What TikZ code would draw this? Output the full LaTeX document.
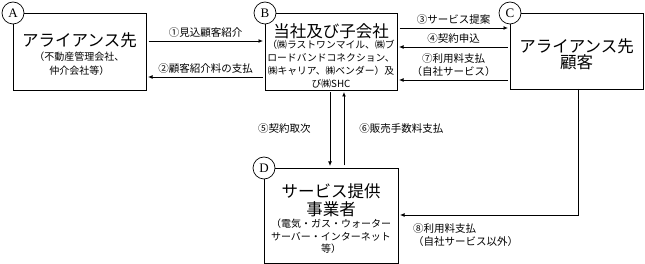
\documentclass[tikz,border=0pt]{standalone}
\usepackage{fontspec}
\setmainfont{Liberation Serif}
\newfontfamily\jpfont{Noto Sans CJK JP}
\usetikzlibrary{arrows.meta,calc}
\newcommand\bigjp{\fontsize{16.5}{13}\selectfont}
\newcommand\smalljp{\fontsize{9.8}{13}\selectfont}
% one text line: strut of #1pt above the baseline, text smashed
\newcommand\jrow[2]{\rule{0pt}{#1pt}\smash{#2}\cr}
\newcommand\jstack[1]{\vbox{\offinterlineskip\halign{\hfil##\hfil\cr#1}}}

\begin{document}
\begin{tikzpicture}[x=1pt,y=-1pt,
        box/.style={draw, line width=0.8pt, fill=white, outer sep=0pt},
        boxtext/.style={anchor=north, inner sep=0pt, font=\jpfont\fontsize{10}{13}\selectfont},
        tag/.style={draw, circle, fill=white, line width=0.7pt, minimum size=22pt, inner sep=0pt,
            font=\fontsize{13}{13}\selectfont},
        flow/.style={-{Latex[length=4.5pt,width=4pt]}, line width=0.9pt, shorten <=2.5pt, shorten >=2pt},
        lbl/.style={font=\jpfont\fontsize{10.5}{13}\selectfont, align=center, inner sep=1pt}]
        \useasboundingbox (0,0) rectangle (645,264);
        % partners, company, customers, providers
        \node[box, minimum width=133pt, minimum height=77pt] (A) at (79.5,51.5) {};
        \node[box, minimum width=132pt, minimum height=77pt] (B) at (331,51.5) {};
        \node[box, minimum width=133pt, minimum height=76pt] (C) at (576.5,51) {};
        \node[box, minimum width=134pt, minimum height=95pt] (D) at (331,215.5) {};
        \node[boxtext] (At) at (A.north) {\jstack{%
            \jrow{33.8}{\bigjp アライアンス先}%
            \jrow{13.5}{（不動産管理会社、}%
            \jrow{14.5}{仲介会社等）}}};
        \node[boxtext] (Bt) at (B.north) {\jstack{%
            \jrow{24.3}{\bigjp 当社及び子会社}%
            \jrow{10.6}{\smalljp （㈱ラストワンマイル、㈱ブ}%
            \jrow{13}{\smalljp ロードバンドコネクション、}%
            \jrow{13}{\smalljp ㈱キャリア、㈱ベンダー）及}%
            \jrow{13}{\smalljp び㈱SHC}}};
        \node[boxtext] (Ct) at (C.north) {\jstack{%
            \jrow{39.3}{\bigjp アライアンス先}%
            \jrow{16}{\bigjp 顧客}}};
        \node[boxtext] (Dt) at (D.north) {\jstack{%
            \jrow{29.3}{\bigjp サービス提供}%
            \jrow{18.5}{\bigjp 事業者}%
            \jrow{12}{（電気・ガス・ウォーター}%
            \jrow{12.5}{サーバー・インターネット}%
            \jrow{12}{等）}}};
        % corner tags
        \node[tag] (tA) at (A.north west) {A};
        \node[tag] (tB) at (B.north west) {B};
        \node[tag] (tC) at (C.north west) {C};
        \node[tag] (tD) at (D.north west) {D};
        % flows
        \draw[flow] ([yshift=-28pt]A.north east) -- ([yshift=-28pt]B.north west)
            node[lbl, midway, above=2pt] {①見込顧客紹介};
        \draw[flow] ([yshift=-64pt]B.north west) -- ([yshift=-64pt]A.north east)
            node[lbl, midway, above=2pt] {②顧客紹介料の支払};
        \draw[flow] ([yshift=-15pt]B.north east) -- ([yshift=-15pt]C.north west)
            node[lbl, midway, above=2pt] {③サービス提案};
        \draw[flow] ([yshift=-34pt]C.north west) -- ([yshift=-34pt]B.north east)
            node[lbl, midway, above=2pt] {④契約申込};
        \draw[flow] ([yshift=-67pt]C.north west) -- ([yshift=-67pt]B.north east)
            node[lbl, midway, above=2pt] {⑦利用料支払\\（自社サービス）};
        \draw[flow] ([xshift=-1pt]B.south) -- ([xshift=-1pt]B.south |- D.north)
            node[lbl, midway, left=18pt] {⑤契約取次};
        \draw[flow] ([xshift=13pt]D.north) -- ([xshift=13pt]D.north |- B.south)
            node[lbl, midway, right=14pt] {⑥販売手数料支払};
        \draw[flow, shorten <=0pt] ([xshift=1.5pt]C.south) |- ([yshift=-47pt]D.north east);
        \node[lbl, align=left, anchor=north west] (l8) at ([xshift=14pt,yshift=-54.5pt]D.north east)
            {⑧利用料支払\\（自社サービス以外）};
\end{tikzpicture}
\end{document}
